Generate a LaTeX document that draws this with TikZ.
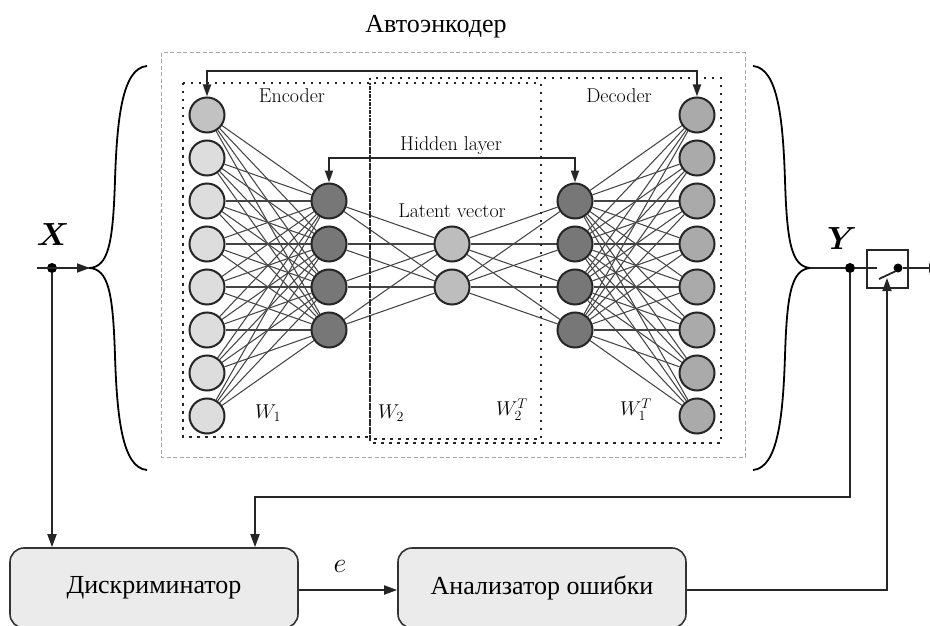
\RequirePackage{fix-cm}
\documentclass[tikz,border=0pt]{standalone}
\usepackage{amsmath}
\usepackage{fontspec}
\newfontfamily\rusfont[Script=Cyrillic]{Liberation Serif}
\usetikzlibrary{arrows.meta,backgrounds}
\definecolor{inA}{HTML}{C2C2C2}
\definecolor{inB}{HTML}{DDDDDD}
\definecolor{hidc}{HTML}{777777}
\definecolor{latc}{HTML}{BDBDBD}
\definecolor{outc}{HTML}{AAAAAA}
\definecolor{boxfill}{HTML}{EBEBEB}
\definecolor{synapse}{HTML}{444444}
\begin{document}
\begin{tikzpicture}[x=1pt,y=-1pt,
  neuron/.style={circle,draw=black!85,line width=2pt,minimum size=35pt,inner sep=0pt},
  syn/.style={synapse,line width=1.05pt},
  conn/.style={line width=1.8pt,black!85},
  tip/.style={-{Triangle[length=13pt,width=9pt]}},
  dbltip/.style={{Triangle[length=12pt,width=8pt]}-{Triangle[length=12pt,width=8pt]}},
  dotbox/.style={line width=2.5pt,dash pattern=on 2.5pt off 5.5pt,black!85},
  outerbox/.style={line width=1pt,gray!70,dash pattern=on 4pt off 2.5pt},
  bracestyle/.style={line width=1.8pt,black},
  dotnode/.style={circle,fill=black,inner sep=0pt,minimum size=10pt},
  blk/.style={draw=black!80,line width=1.6pt,fill=boxfill,rounded corners=14pt,minimum width=288pt,minimum height=80pt},
  rus/.style={font=\rusfont\fontsize{26}{30}\selectfont},
  lmtext/.style={font=\fontsize{20}{24}\selectfont,black},
  mlabel/.style={font=\fontsize{20}{24}\selectfont,black},
  biglabel/.style={font=\fontsize{32}{36}\selectfont}
]
\useasboundingbox (0,0) rectangle (930,626);

% title
\node[rus] (title) at (436,27) {Автоэнкодер};

% outer dashed frame and dotted boxes
\draw[outerbox] (161,53) rectangle (745,457);
\draw[dotbox] (183,83) rectangle (370,437);
\draw[dotbox] (370,83) rectangle (541,439);
\draw[dotbox] (370,78) rectangle (721,443);

% neurons
\foreach \i in {1,...,8} {
  \ifnum\i=1 \def\fc{inA}\else\def\fc{inB}\fi
  \node[neuron,fill=\fc] (i\i) at (207,{115+43*(\i-1)}) {};
  \node[neuron,fill=outc] (o\i) at (697,{115+43*(\i-1)}) {};
}
\foreach \i in {1,...,4} {
  \node[neuron,fill=hidc] (h\i) at (329,{201+43*(\i-1)}) {};
  \node[neuron,fill=hidc] (d\i) at (575,{201+43*(\i-1)}) {};
}
\foreach \i in {1,2} {
  \node[neuron,fill=latc] (l\i) at (452,{244+43*(\i-1)}) {};
}

% synapses
\begin{scope}[on background layer]
\foreach \a in {1,...,8} \foreach \b in {1,...,4} {
  \draw[syn] (i\a) -- (h\b);
  \draw[syn] (d\b) -- (o\a);
}
\foreach \a in {1,...,4} \foreach \b in {1,2} {
  \draw[syn] (h\a) -- (l\b);
  \draw[syn] (l\b) -- (d\a);
}
\end{scope}

% tied-weight arrows
\coordinate (ta) at (207,71);
\coordinate (tb) at (697,71);
\draw[conn,dbltip] (i1.north) -- (ta) -- (tb) -- (o1.north);
\coordinate (ha) at (329,158);
\coordinate (hb) at (575,158);
\draw[conn,dbltip] (h1.north) -- (ha) -- (hb) -- (d1.north);

% labels inside
\node[lmtext] (enc) at (292,96) {Encoder};
\node[lmtext] (dec) at (619,96) {Decoder};
\node[lmtext] (hl) at (451,146) {Hidden layer};
\node[lmtext] (lv) at (452,211) {Latent vector};
\node[mlabel] (w1) at (268,413) {$W_1$};
\node[mlabel] (w2) at (391,413) {$W_2$};
\node[mlabel] (w2t) at (512,410) {$W_2^T$};
\node[mlabel] (w1t) at (636,410) {$W_1^T$};

% braces
\coordinate (bl) at (90,268);
\coordinate (br) at (810,268);
\draw[bracestyle] (147,66) .. controls (122,68) and (117,120) .. (115,180)
  .. controls (113,245) and (108,266) .. (bl)
  .. controls (108,270) and (113,291) .. (115,356)
  .. controls (117,416) and (122,468) .. (147,470);
\draw[bracestyle] (753,66) .. controls (778,68) and (783,120) .. (785,180)
  .. controls (787,245) and (792,266) .. (br)
  .. controls (792,270) and (787,291) .. (785,356)
  .. controls (783,416) and (778,468) .. (753,470);

% X input
\node[biglabel] (xl) at (53,235) {$\boldsymbol{X}$};
\coordinate (xin) at (37,268);
\node[dotnode] (xd) at (52,268) {};
\draw[conn,tip] (xin) -- (bl);

% Y output and switch
\node[biglabel] (yl) at (842,239) {$\boldsymbol{Y}$};
\node[dotnode] (yd) at (850,268) {};
\node[draw=black!85,line width=1.6pt,minimum width=41pt,minimum height=38pt,inner sep=0pt] (sw) at (887.5,269) {};
\coordinate (swin) at (877,268);
\coordinate (bla) at (879,279);
\coordinate (blb) at (896,271);
\node[dotnode,minimum size=9pt] (swd) at (898,268) {};
\coordinate (outp) at (942,268);
\draw[conn] (br) -- (yd) -- (sw.west |- yd) -- (swin);
\draw[conn] (bla) -- (blb);
\draw[conn] (swd) -- (outp -| sw.east);
\draw[conn,tip] (outp -| sw.east) -- (outp);

% bottom blocks
\node[blk] (disc) at (154,588) {\raisebox{-4pt}{\rusfont\fontsize{26}{30}\selectfont Дискриминатор}};
\node[blk] (anal) at (542,588) {\raisebox{-4pt}{\rusfont\fontsize{26}{30}\selectfont Анализатор ошибки}};

% feed lines
\draw[conn,tip] (xd) -- (xd |- disc.north);
\coordinate (yturn) at (255,497);
\draw[conn,tip] (yd) -- (yd |- yturn) -- (yturn) -- (yturn |- disc.north);
\coordinate (eh) at (298,590);
\draw[conn,tip] (disc.east |- eh) -- (anal.west |- eh);
\node[font=\fontsize{28}{32}\selectfont] (el) at (340,566) {$e$};
\coordinate (swtip) at (887,278);
\draw[conn,tip] (anal.east |- eh) -| (swtip);
\end{tikzpicture}
\end{document}
